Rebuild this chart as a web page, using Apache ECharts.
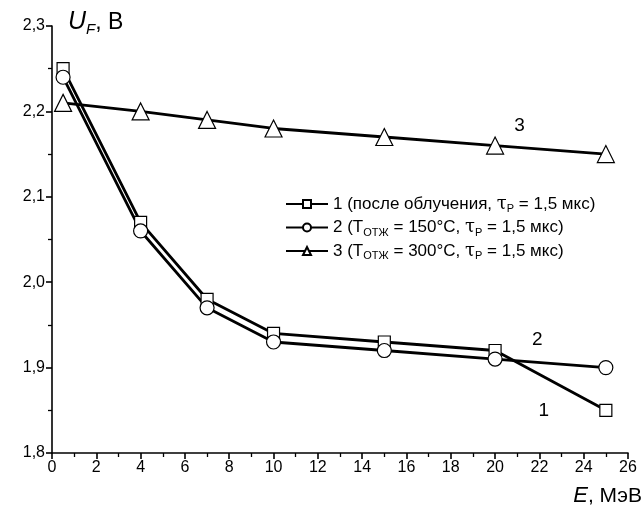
<!DOCTYPE html>
<html><head><meta charset="utf-8">
<script src="https://cdn.jsdelivr.net/npm/echarts@6/dist/echarts.min.js"></script>
<style>html,body{margin:0;padding:0;background:#fff}#c{width:643px;height:508px}</style>
</head><body><div id="c"></div>
<script>
const energy = [0.5, 4, 7, 10, 15, 20, 25];
const series1 = [2.25, 2.07, 1.98, 1.94, 1.93, 1.92, 1.85];
const series2 = [2.24, 2.06, 1.97, 1.93, 1.92, 1.91, 1.90];
const series3 = [2.21, 2.20, 2.19, 2.18, 2.17, 2.16, 2.15];
const names = ['s1', 's2', 's3'];
const legendTexts = {
  s1: '1 (после облучения, {tau|τ}{sub|Р} = 1,5 мкс)',
  s2: '2 (T{sub|ОТЖ} = 150°C, {tau|τ}{sub|Р} = 1,5 мкс)',
  s3: '3 (T{sub|ОТЖ} = 300°C, {tau|τ}{sub|Р} = 1,5 мкс)'
};
const curveLabels = [
  {text: '3', x: 21.1, y: 2.183},
  {text: '2', x: 21.9, y: 1.933},
  {text: '1', x: 22.2, y: 1.850}
];
const FONT = '"Liberation Sans", Arial, sans-serif';
const pair = (xs, ys) => xs.map((x, i) => [x, ys[i]]);
const chart = echarts.init(document.getElementById('c'));
const mk = (name, data, symbol, size) => ({
  name, type: 'line', data: pair(energy, data), symbol, symbolSize: size,
  showAllSymbol: true,
  lineStyle: {color: '#000', width: 2.8},
  itemStyle: {color: '#fff', borderColor: '#000', borderWidth: 1.2},
  emphasis: {disabled: true}, z: 3
});
chart.setOption({
  animation: false,
  grid: {left: 52, right: 15, top: 26, bottom: 55},
  xAxis: {
    type: 'value', min: 0, max: 26, interval: 2,
    axisLine: {show: true, onZero: false, lineStyle: {color: '#000', width: 1.6}},
    axisTick: {show: true, length: 6, lineStyle: {color: '#000', width: 1.6}},
    minorTick: {show: true, splitNumber: 2, length: 4, lineStyle: {color: '#000', width: 1.3}},
    splitLine: {show: false},
    axisLabel: {color: '#000', fontSize: 16, fontFamily: FONT, margin: 7}
  },
  yAxis: {
    type: 'value', min: 1.8, max: 2.3, interval: 0.1,
    axisLine: {show: true, onZero: false, lineStyle: {color: '#000', width: 1.6}},
    axisTick: {show: true, length: 6, lineStyle: {color: '#000', width: 1.6}},
    minorTick: {show: true, splitNumber: 2, length: 4, lineStyle: {color: '#000', width: 1.3}},
    splitLine: {show: false},
    axisLabel: {color: '#000', fontSize: 16, fontFamily: FONT, margin: 7,
      formatter: v => v.toFixed(1).replace('.', ',')}
  },
  legend: {
    orient: 'vertical', left: 280, top: 189, itemGap: 3,
    itemWidth: 42, itemHeight: 10,
    data: names,
    formatter: n => legendTexts[n],
    textStyle: {
      color: '#000', fontSize: 17, fontFamily: FONT, lineHeight: 20,
      rich: {
        sub: {fontSize: 11, fontFamily: FONT, color: '#000', padding: [10, 0, 0, 0]},
        tau: {fontSize: 18, fontFamily: '"DejaVu Serif", serif', color: '#000'}
      }
    }
  },
  series: [
    mk('s1', series1, 'rect', 12),
    mk('s2', series2, 'circle', 14),
    mk('s3', series3, 'triangle', 17)
  ]
});
const g = [
  {type: 'text', left: 68, top: 10, style: {
    text: '{i|U}{isub|F}{n|, В}', fill: '#000',
    rich: {
      i: {fontSize: 25, fontStyle: 'italic', fontFamily: FONT, fill: '#000'},
      isub: {fontSize: 15, fontStyle: 'italic', fontFamily: FONT, fill: '#000', padding: [14, 0, 0, 0]},
      n: {fontSize: 23, fontFamily: FONT, fill: '#000'}
    }}},
  {type: 'text', right: 1, top: 485, style: {
    text: '{i|E}{n|, МэВ}', fill: '#000',
    rich: {
      i: {fontSize: 22, fontStyle: 'italic', fontFamily: FONT, fill: '#000'},
      n: {fontSize: 21, fontFamily: FONT, fill: '#000'}
    }}}
];
curveLabels.forEach(c => {
  const p = chart.convertToPixel({gridIndex: 0}, [c.x, c.y]);
  g.push({type: 'text', x: p[0], y: p[1], style: {
    text: c.text, fontSize: 19, fontFamily: FONT, fill: '#000', align: 'center', verticalAlign: 'middle'}});
});
chart.setOption({graphic: g});
</script></body></html>
